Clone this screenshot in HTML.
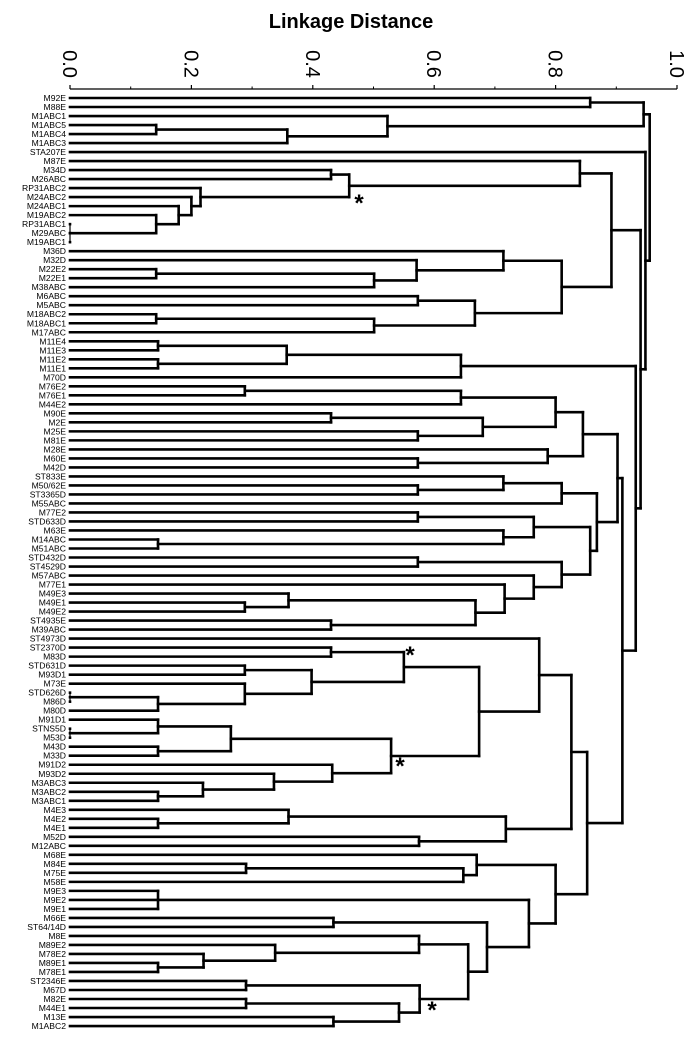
<!DOCTYPE html>
<html><head><meta charset="utf-8">
<style>
html,body{margin:0;padding:0;background:#fff;}
svg{display:block;font-family:"Liberation Sans",sans-serif;}
</style></head>
<body>
<svg id="chart" width="691" height="1040" viewBox="0 0 691 1040" xmlns="http://www.w3.org/2000/svg">
<text x="351" y="28" text-anchor="middle" font-size="20" font-weight="bold">Linkage Distance</text>
<g id="axis"></g>
<g id="links" stroke="#000" stroke-width="2.6" fill="none" stroke-linecap="square"></g>
<g id="labels" font-size="8.6" text-anchor="end"></g>
<g id="stars" font-size="24" font-weight="bold"></g>
</svg>
<script>
// Axis data
const tickValues = [0.0, 0.2, 0.4, 0.6, 0.8, 1.0];
const tickLabels = ["0.0", "0.2", "0.4", "0.6", "0.8", "1.0"];
const minorTicks = [0.1, 0.3, 0.5, 0.7, 0.9];
// Tree data: [height, child, child, ...]; strings are leaves
const tree =
[0.955,
  [0.945, [0.857, "M92E", "M88E"], [0.523, "M1ABC1", [0.358, [0.142, "M1ABC5", "M1ABC4"], "M1ABC3"]]],
  [0.948, "STA207E",
    [0.94,
      [0.892,
        [0.84, "M87E",
          [0.46, [0.43, "M34D", "M26ABC"],
            [0.215, "RP31ABC2", [0.2, "M24ABC2", [0.179, "M24ABC1", [0.142, "M19ABC2", [0.0, "RP31ABC1", "M29ABC", "M19ABC1"]]]]]]],
        [0.81,
          [0.714, "M36D", [0.571, "M32D", [0.501, [0.142, "M22E2", "M22E1"], "M38ABC"]]],
          [0.667, [0.573, "M6ABC", "M5ABC"], [0.501, [0.142, "M18ABC2", "M18ABC1"], "M17ABC"]]]],
      [0.932,
        [0.644, [0.357, [0.145, "M11E4", "M11E3"], [0.145, "M11E2", "M11E1"]], "M70D"],
        [0.91,
          [0.902,
            [0.845,
              [0.8, [0.644, [0.288, "M76E2", "M76E1"], "M44E2"],
                    [0.68, [0.43, "M90E", "M2E"], [0.573, "M25E", "M81E"]]],
              [0.787, "M28E", [0.573, "M60E", "M42D"]]],
            [0.868,
              [0.81, [0.714, "ST833E", [0.573, "M50/62E", "ST3365D"]], "M55ABC"],
              [0.857,
                [0.764, [0.573, "M77E2", "STD633D"], [0.714, "M63E", [0.145, "M14ABC", "M51ABC"]]],
                [0.81, [0.573, "STD432D", "ST4529D"],
                  [0.764, "M57ABC", [0.716, "M77E1",
                    [0.668, [0.36, "M49E3", [0.288, "M49E1", "M49E2"]], [0.43, "ST4935E", "M39ABC"]]]]]]]],
          [0.852,
            [0.826,
              [0.773, "ST4973D",
                [0.674,
                  [0.55, [0.43, "ST2370D", "M83D"],
                    [0.398, [0.288, "STD631D", "M93D1"], [0.288, "M73E", [0.145, [0.0, "STD626D", "M86D"], "M80D"]]]],
                  [0.529, [0.265, [0.145, "M91D1", [0.0, "STNS5D", "M53D"]], [0.145, "M43D", "M33D"]],
                    [0.432, "M91D2", [0.336, "M93D2", [0.219, "M3ABC3", [0.145, "M3ABC2", "M3ABC1"]]]]]]],
              [0.718, [0.36, "M4E3", [0.145, "M4E2", "M4E1"]], [0.575, "M52D", "M12ABC"]]],
            [0.8,
              [0.67, "M68E", [0.648, [0.29, "M84E", "M75E"], "M58E"]],
              [0.756, [0.145, "M9E3", "M9E2", "M9E1"],
                [0.687, [0.434, "M66E", "ST64/14D"],
                  [0.656,
                    [0.575, "M8E", [0.338, "M89E2", [0.22, "M78E2", [0.145, "M89E1", "M78E1"]]]],
                    [0.576, [0.29, "ST2346E", "M67D"], [0.542, [0.29, "M82E", "M44E1"], [0.434, "M13E", "M1ABC2"]]]]]]]]]]]]];
</script>
<script>
const NS = "http://www.w3.org/2000/svg";
const X0 = 70, XW = 607, Y0 = 98, DY = 9.01, AXY = 89;
const xs = v => X0 + v * XW;
const axis = document.getElementById('axis');
const links = document.getElementById('links');
const labels = document.getElementById('labels');
const stars = document.getElementById('stars');
function mk(tag, attrs, parent){ const e = document.createElementNS(NS, tag); for (const k in attrs) e.setAttribute(k, attrs[k]); parent.appendChild(e); return e; }

const al = mk('line', {x1: xs(0), y1: AXY, x2: xs(1), y2: AXY, stroke: '#000', 'stroke-width': 1.2}, axis);


tickValues.forEach((v, i) => {
  const t = mk('line', {x1: xs(v), y1: AXY, x2: xs(v), y2: AXY - 4, stroke: '#000', 'stroke-width': 1.2}, axis);
  
  
  const lb = mk('text', {x: 0, y: 0, 'font-size': 20, 'text-anchor': 'middle', transform: `translate(${xs(v) - 7},64) rotate(90)`}, axis);
  lb.textContent = tickLabels[i];
  
  
});
minorTicks.forEach(v => {
  const t = mk('line', {x1: xs(v), y1: AXY, x2: xs(v), y2: AXY - 2.5, stroke: '#000', 'stroke-width': 1}, axis);
  
  
});

let leafIdx = 0;
function layout(node){
  if (typeof node === 'string'){
    const y = Y0 + leafIdx * DY; leafIdx++;
    const t = mk('text', {x: 66, y: y + 3}, labels);
    t.textContent = node;
    
    
    return {x: xs(0), y: y, h: 0};
  }
  const h = node[0];
  const kids = node.slice(1).map(layout);
  const nx = xs(h);
  kids.forEach(k => {
    const ln = mk('line', {x1: k.x, y1: k.y, x2: nx, y2: k.y}, links);
    
    
  });
  const ys = kids.map(k => k.y);
  const y1 = Math.min(...ys), y2 = Math.max(...ys);
  const vl = mk('line', {x1: nx, y1: y1, x2: nx, y2: y2}, links);
  if (h === 0) vl.setAttribute('stroke-width', '1.2');
  
  
  return {x: nx, y: (y1 + y2) / 2, h: h};
}
layout(tree);

[[359, 211], [410, 663], [400, 774], [432, 1018]].forEach(p => {
  const s = mk('text', {x: p[0], y: p[1], 'text-anchor': 'middle'}, stars);
  s.textContent = '*';
  
  
});
</script>
</body></html>
